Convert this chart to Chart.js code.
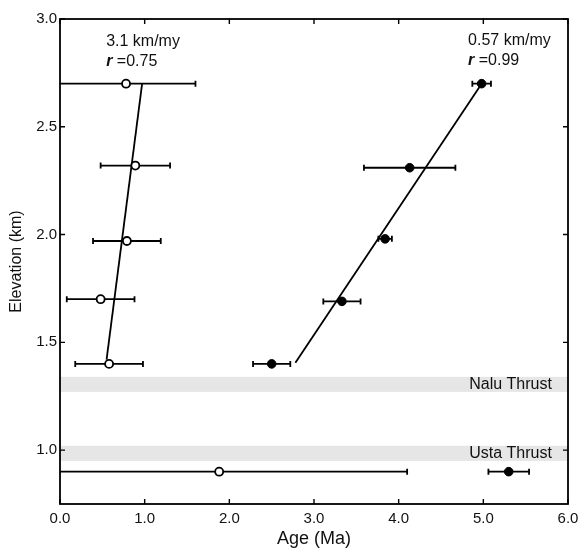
<!DOCTYPE html>
<html lang="en">
<head>
  <meta charset="UTF-8">
  <title>Elevation vs Age</title>
  <script src="https://cdn.jsdelivr.net/npm/chart.js"></script>
  <style>
    body { margin: 0; background: #fff; }
    #wrap { width: 581px; height: 548px; }
  </style>
</head>
<body>
  <div id="wrap"><canvas id="ageChart" width="581" height="548"></canvas></div>

  <script>
    // open circles (left profile)
    const openAge = [0.78, 0.89, 0.79, 0.48, 0.58, 1.88];
    const openElev = [2.70, 2.32, 1.97, 1.70, 1.40, 0.90];
    const openErr = [0.82, 0.41, 0.40, 0.40, 0.40, 2.22];

    // filled circles (right profile)
    const fillAge = [4.98, 4.13, 3.84, 3.33, 2.50, 5.30];
    const fillElev = [2.70, 2.31, 1.98, 1.69, 1.40, 0.90];
    const fillErr = [0.11, 0.54, 0.08, 0.22, 0.22, 0.24];

    // regression lines
    const openFitAge = [0.55, 0.97];
    const openFitElev = [1.42, 2.70];
    const fillFitAge = [2.78, 4.98];
    const fillFitElev = [1.405, 2.70];

    // thrust zones (elevation bands)
    const thrustNames = ['Nalu Thrust', 'Usta Thrust'];
    const thrustLow = [1.27, 0.95];
    const thrustHigh = [1.34, 1.02];

    const xTicks = [0, 1, 2, 3, 4, 5, 6];
    const yTicks = [1.0, 1.5, 2.0, 2.5, 3.0];

    const FONT = '"Liberation Sans", Arial, sans-serif';
    const toPts = (xs, ys) => xs.map((x, i) => ({ x: x, y: ys[i] }));

    const bandsPlugin = {
      id: 'bands',
      beforeDatasetsDraw(chart) {
        const { ctx, chartArea: a, scales: { x, y } } = chart;
        ctx.save();
        ctx.fillStyle = '#e6e6e6';
        thrustLow.forEach((lo, i) => {
          const top = y.getPixelForValue(thrustHigh[i]);
          const bot = y.getPixelForValue(lo);
          ctx.fillRect(a.left, top, a.right - a.left, bot - top);
        });
        ctx.fillStyle = '#111';
        ctx.font = '16px ' + FONT;
        ctx.textAlign = 'right';
        ctx.textBaseline = 'middle';
        thrustNames.forEach((name, i) => {
          ctx.fillText(name, x.getPixelForValue(5.81), y.getPixelForValue((thrustLow[i] + thrustHigh[i]) / 2));
        });

        // error bars
        ctx.beginPath();
        ctx.rect(a.left, a.top, a.right - a.left, a.bottom - a.top);
        ctx.clip();
        ctx.strokeStyle = '#000';
        ctx.lineWidth = 1.8;
        const bars = (ages, elevs, errs) => ages.forEach((v, i) => {
          const x0 = x.getPixelForValue(v - errs[i]);
          const x1 = x.getPixelForValue(v + errs[i]);
          const py = y.getPixelForValue(elevs[i]);
          ctx.beginPath();
          ctx.moveTo(x0, py); ctx.lineTo(x1, py);
          ctx.moveTo(x0, py - 3); ctx.lineTo(x0, py + 3);
          ctx.moveTo(x1, py - 3); ctx.lineTo(x1, py + 3);
          ctx.stroke();
        });
        bars(openAge, openElev, openErr);
        bars(fillAge, fillElev, fillErr);
        ctx.restore();
      }
    };

    const framePlugin = {
      id: 'frame',
      afterDraw(chart) {
        const { ctx, chartArea: a, scales: { x, y } } = chart;
        ctx.save();
        ctx.strokeStyle = '#000';
        ctx.lineWidth = 1.8;
        ctx.strokeRect(a.left, a.top, a.right - a.left, a.bottom - a.top);
        ctx.lineWidth = 1.4;
        ctx.beginPath();
        xTicks.forEach(v => {
          const px = x.getPixelForValue(v);
          ctx.moveTo(px, a.bottom); ctx.lineTo(px, a.bottom - 5);
          ctx.moveTo(px, a.top); ctx.lineTo(px, a.top + 5);
        });
        yTicks.forEach(v => {
          const py = y.getPixelForValue(v);
          ctx.moveTo(a.left, py); ctx.lineTo(a.left + 5, py);
          ctx.moveTo(a.right, py); ctx.lineTo(a.right - 5, py);
        });
        ctx.stroke();

        // slope notes
        ctx.fillStyle = '#111';
        ctx.textBaseline = 'middle';
        ctx.textAlign = 'left';
        const note = (ax, ay, rate, r) => {
          const px = x.getPixelForValue(ax);
          const py = y.getPixelForValue(ay);
          ctx.font = '16px ' + FONT;
          ctx.fillText(rate, px, py);
          ctx.font = 'italic bold 16px ' + FONT;
          ctx.fillText('r', px, py + 20);
          const w = ctx.measureText('r ').width;
          ctx.font = '16px ' + FONT;
          ctx.fillText('=' + r, px + w, py + 20);
        };
        note(0.545, 2.893, '3.1 km/my', '0.75');
        note(4.82, 2.898, '0.57 km/my', '0.99');
        ctx.restore();
      }
    };

    new Chart(document.getElementById('ageChart').getContext('2d'), {
      type: 'scatter',
      data: {
        datasets: [
          {
            data: toPts(openAge, openElev),
            pointRadius: 4,
            pointBackgroundColor: '#fff',
            pointBorderColor: '#000',
            pointBorderWidth: 1.8,
            order: 0
          },
          {
            data: toPts(fillAge, fillElev),
            pointRadius: 4.3,
            pointBackgroundColor: '#000',
            pointBorderColor: '#000',
            pointBorderWidth: 1,
            order: 0
          },
          {
            type: 'line',
            data: toPts(openFitAge, openFitElev),
            borderColor: '#000',
            borderWidth: 1.8,
            pointRadius: 0,
            order: 1
          },
          {
            type: 'line',
            data: toPts(fillFitAge, fillFitElev),
            borderColor: '#000',
            borderWidth: 1.8,
            pointRadius: 0,
            order: 1
          }
        ]
      },
      options: {
        responsive: false,
        animation: false,
        layout: { padding: { top: 19, right: 13, left: 0, bottom: 0 } },
        plugins: { legend: { display: false }, tooltip: { enabled: false } },
        scales: {
          x: {
            type: 'linear',
            min: 0,
            max: 6,
            afterBuildTicks: s => { s.ticks = xTicks.map(v => ({ value: v })); },
            afterFit: s => { s.height = 44; s.paddingLeft = 0; s.paddingRight = 0; },
            grid: { display: false, drawTicks: false },
            border: { display: false },
            ticks: {
              padding: 6,
              color: '#111',
              font: { family: FONT, size: 15 },
              callback: v => v.toFixed(1)
            },
            title: {
              display: true,
              text: 'Age (Ma)',
              color: '#111',
              font: { family: FONT, size: 18, lineHeight: 1 },
              padding: { top: 0, bottom: 0 }
            }
          },
          y: {
            type: 'linear',
            min: 0.75,
            max: 3.0,
            afterBuildTicks: s => { s.ticks = yTicks.map(v => ({ value: v })); },
            afterFit: s => { s.width = 60; s.paddingTop = 0; s.paddingBottom = 0; },
            grid: { display: false, drawTicks: false },
            border: { display: false },
            ticks: {
              padding: 3,
              color: '#111',
              font: { family: FONT, size: 15 },
              callback: v => v.toFixed(1)
            },
            title: {
              display: true,
              text: 'Elevation (km)',
              color: '#111',
              font: { family: FONT, size: 16 },
              padding: { top: 7, bottom: 0 }
            }
          }
        }
      },
      plugins: [bandsPlugin, framePlugin]
    });
  </script>
</body>
</html>
